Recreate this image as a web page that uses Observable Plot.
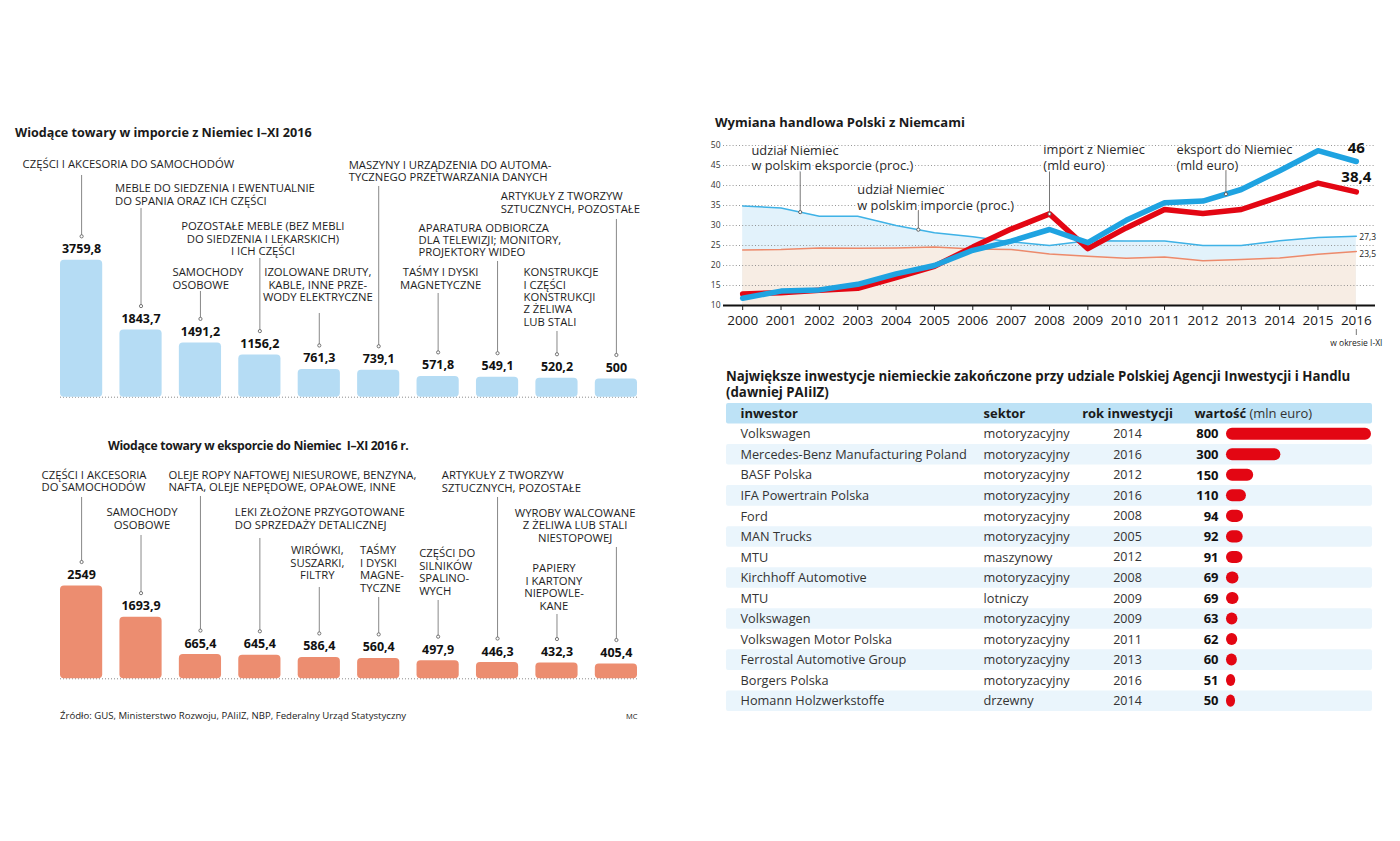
<!DOCTYPE html>
<html lang="pl">
<head>
<meta charset="utf-8">
<script src="https://cdn.jsdelivr.net/npm/d3@7"></script>
<script src="https://cdn.jsdelivr.net/npm/@observablehq/plot@0.6"></script>
<style>
html,body{margin:0;padding:0;background:#fff;}
#root{position:relative;width:1400px;height:841px;overflow:hidden;font-family:"Open Sans",sans-serif;color:#1a1a1a;background:#fff;}
.abs{position:absolute;white-space:nowrap;}
.ttl{font-weight:700;font-size:13px;line-height:15px;}
</style>
</head>
<body>
<div id="root"></div>
<script>
// ---------------- DATA ----------------
const importLabels = [
  "CZĘŚCI I AKCESORIA DO SAMOCHODÓW",
  "MEBLE DO SIEDZENIA I EWENTUALNIE\nDO SPANIA ORAZ ICH CZĘŚCI",
  "SAMOCHODY\nOSOBOWE",
  "POZOSTAŁE MEBLE (BEZ MEBLI\nDO SIEDZENIA I LEKARSKICH)\nI ICH CZĘŚCI",
  "IZOLOWANE DRUTY,\nKABLE, INNE PRZE-\nWODY ELEKTRYCZNE",
  "MASZYNY I URZĄDZENIA DO AUTOMA-\nTYCZNEGO PRZETWARZANIA DANYCH",
  "TAŚMY I DYSKI\nMAGNETYCZNE",
  "APARATURA ODBIORCZA\nDLA TELEWIZJI; MONITORY,\nPROJEKTORY WIDEO",
  "KONSTRUKCJE\nI CZĘŚCI\nKONSTRUKCJI\nZ ŻELIWA\nLUB STALI",
  "ARTYKUŁY Z TWORZYW\nSZTUCZNYCH, POZOSTAŁE"
];
const importValues = [3759.8, 1843.7, 1491.2, 1156.2, 761.3, 739.1, 571.8, 549.1, 520.2, 500];

const exportLabels = [
  "CZĘŚCI I AKCESORIA\nDO SAMOCHODÓW",
  "SAMOCHODY\nOSOBOWE",
  "OLEJE ROPY NAFTOWEJ NIESUROWE, BENZYNA,\nNAFTA, OLEJE NEPĘDOWE, OPAŁOWE, INNE",
  "LEKI ZŁOŻONE PRZYGOTOWANE\nDO SPRZEDAŻY DETALICZNEJ",
  "WIRÓWKI,\nSUSZARKI,\nFILTRY",
  "TAŚMY\nI DYSKI\nMAGNE-\nTYCZNE",
  "CZĘŚCI DO\nSILNIKÓW\nSPALINO-\nWYCH",
  "ARTYKUŁY Z TWORZYW\nSZTUCZNYCH, POZOSTAŁE",
  "PAPIERY\nI KARTONY\nNIEPOWLE-\nKANE",
  "WYROBY WALCOWANE\nZ ŻELIWA LUB STALI\nNIESTOPOWEJ"
];
const exportValues = [2549, 1693.9, 665.4, 645.4, 586.4, 560.4, 497.9, 446.3, 432.3, 405.4];

const years = [2000, 2001, 2002, 2003, 2004, 2005, 2006, 2007, 2008, 2009, 2010, 2011, 2012, 2013, 2014, 2015, 2016];
const exportShare = [34.9, 34.4, 32.3, 32.3, 30.0, 28.2, 27.2, 25.9, 25.0, 26.2, 26.1, 26.1, 25.0, 25.0, 26.2, 27.0, 27.3];
const importShare = [23.9, 24.0, 24.4, 24.3, 24.4, 24.6, 24.1, 24.0, 22.9, 22.3, 21.8, 22.1, 21.2, 21.5, 21.9, 22.8, 23.5];
const importEUR = [12.9, 13.2, 13.8, 14.3, 17.0, 19.8, 24.6, 29.1, 32.9, 24.2, 29.4, 34.0, 33.0, 34.0, 37.2, 40.6, 38.4];
const exportEUR = [11.8, 13.6, 13.9, 15.3, 17.9, 20.0, 23.8, 26.1, 29.0, 25.7, 31.3, 35.7, 36.1, 39.0, 43.7, 48.7, 46.0];
const yTicks = [10, 15, 20, 25, 30, 35, 40, 45, 50];

const investors = ["Volkswagen", "Mercedes-Benz Manufacturing Poland", "BASF Polska", "IFA Powertrain Polska", "Ford", "MAN Trucks", "MTU", "Kirchhoff Automotive", "MTU", "Volkswagen", "Volkswagen Motor Polska", "Ferrostal Automotive Group", "Borgers Polska", "Homann Holzwerkstoffe"];
const sectors = ["motoryzacyjny", "motoryzacyjny", "motoryzacyjny", "motoryzacyjny", "motoryzacyjny", "motoryzacyjny", "maszynowy", "motoryzacyjny", "lotniczy", "motoryzacyjny", "motoryzacyjny", "motoryzacyjny", "motoryzacyjny", "drzewny"];
const investYears = [2014, 2016, 2012, 2016, 2008, 2005, 2012, 2008, 2009, 2009, 2011, 2013, 2016, 2014];
const investValues = [800, 300, 150, 110, 94, 92, 91, 69, 69, 63, 62, 60, 51, 50];

// ---------------- LAYOUT (annotation placement, page px) ----------------
const importLayout = [
  {dx: -59, anchor: "start", y: 163.3, lead: 175},
  {dx: -26, anchor: "start", y: 187, lead: 208},
  {dx: -28, anchor: "start", y: 271, lead: 291},
  {dx: 3, anchor: "middle", y: 225, lead: 258},
  {dx: -1.5, anchor: "middle", y: 271, lead: 313},
  {dx: -30, anchor: "start", y: 163.5, lead: 186},
  {dx: 2.5, anchor: "middle", y: 271, lead: 293},
  {dx: -79, anchor: "start", y: 226.5, lead: 261},
  {dx: -33.5, anchor: "start", y: 271, lead: 331},
  {dx: -115.6, anchor: "start", y: 195, lead: 219}
];
const exportLayout = [
  {dx: -40, anchor: "start", y: 473.5, lead: 497},
  {dx: 1, anchor: "middle", y: 511, lead: 535},
  {dx: -32, anchor: "start", y: 473.5, lead: 496},
  {dx: -25, anchor: "start", y: 511, lead: 538},
  {dx: -2, anchor: "middle", y: 549, lead: 587},
  {dx: -18.7, anchor: "start", y: 549.3, lead: 597},
  {dx: -19, anchor: "start", y: 552.3, lead: 600},
  {dx: -55.8, anchor: "start", y: 474, lead: 497},
  {dx: -3, anchor: "middle", y: 567.3, lead: 614},
  {dx: -41.3, anchor: "middle", y: 511.7, lead: 547}
];

const FONT = '"Open Sans", sans-serif';
const root = document.getElementById("root");
function place(el, left, top) {
  el.style.position = "absolute";
  el.style.left = left + "px";
  el.style.top = top + "px";
  root.appendChild(el);
  return el;
}
function addText(html, left, top, cls, css) {
  const d = document.createElement("div");
  d.className = "abs " + (cls || "");
  d.innerHTML = html;
  if (css) d.style.cssText += css;
  return place(d, left, top);
}
const fmt = v => String(v).replace(".", ",");

// ---------------- BAR CHARTS ----------------
const K = 0.0364; // px per unit (shared scale)
function barChart({labels, values, layout, fill, top, baseline}) {
  const base = baseline - top;
  const H = base + 12;
  const inv = p => (baseline - p) / K;
  const data = labels.map((label, i) => ({label, value: values[i], i}));
  const marks = [
    Plot.ruleY([0], {stroke: "#8a8a8a", strokeDasharray: "1,2", strokeWidth: 1}),
    Plot.barY(data, {x: "label", y: "value", fill, rx: 4}),
    Plot.ruleX(data, {x: "label", y1: d => d.value + 24 / K, y2: d => inv(layout[d.i].lead), stroke: "#7a7a7a", strokeWidth: 0.9}),
    Plot.dot(data, {x: "label", y: "value", dy: -24, r: 1.6, fill: "white", stroke: "#666", strokeWidth: 0.9}),
    Plot.text(data, {x: "label", y: "value", text: d => fmt(d.value), dy: -11, fontWeight: "bold", fontSize: 12.5, fill: "#111"}),
    ...data.map(d => Plot.text([d], {
      x: "label", text: "label", frameAnchor: "top",
      dy: layout[d.i].y - top - 4.2, dx: layout[d.i].dx,
      textAnchor: layout[d.i].anchor, lineAnchor: "top", lineHeight: 1.1,
      fontSize: 11.3, fill: "#1e1e1e"
    }))
  ];
  const svg = Plot.plot({
    width: 660, height: H,
    marginLeft: 60, marginRight: 23, marginTop: 0, marginBottom: 12,
    x: {domain: labels, paddingInner: 0.29, paddingOuter: 0, round: false, axis: null},
    y: {domain: [0, base / K], range: [base, 0], axis: null},
    style: {fontFamily: FONT, background: "transparent", overflow: "visible"},
    marks
  });
  place(svg, 0, top);
}

addText("Wiodące towary w imporcie z Niemiec I–XI 2016", 15, 125, "ttl", "font-size:12.6px;");
barChart({labels: importLabels, values: importValues, layout: importLayout, fill: "#b5dcf4", top: 140, baseline: 396.7});

addText("Wiodące towary w eksporcie do Niemiec &nbsp;I–XI 2016 r.", 108, 438, "ttl", "font-size:12.2px;letter-spacing:-0.32px;");
barChart({labels: exportLabels, values: exportValues, layout: exportLayout, fill: "#ec8d70", top: 455, baseline: 678.3});

addText("Źródło: GUS, Ministerstwo Rozwoju, PAIiIZ, NBP, Federalny Urząd Statystyczny", 60, 709, "", "font-size:9.6px;line-height:13px;color:#222;");
addText("MC", 626, 710, "", "font-size:7.5px;line-height:12px;color:#222;");

// ---------------- LINE CHART ----------------
const series = years.map((year, i) => ({year, exportShare: exportShare[i], importShare: importShare[i], importEUR: importEUR[i], exportEUR: exportEUR[i]}));
function interp(arr, yr) {
  const i = Math.min(Math.floor(yr - years[0]), arr.length - 2);
  const t = yr - years[0] - i;
  return arr[i] + t * (arr[i + 1] - arr[i]);
}
const seriesByName = {exportShare, importShare, importEUR, exportEUR};
const lineAnnotations = [
  {text: "udział Niemiec\nw polskim eksporcie (proc.)", tx: 2000.23, ty: 49.3, lx: 2001.5, s: "exportShare", ly: 43.75},
  {text: "udział Niemiec\nw polskim imporcie (proc.)", tx: 2002.99, ty: 39.4, lx: 2004.58, s: "exportShare", ly: 33.75},
  {text: "import z Niemiec\n(mld euro)", tx: 2007.84, ty: 49.4, lx: 2008, s: "importEUR", ly: 43.75},
  {text: "eksport do Niemiec\n(mld euro)", tx: 2011.31, ty: 49.4, lx: 2012.6, s: "exportEUR", ly: 43.75}
].map(d => ({...d, anchorY: interp(seriesByName[d.s], d.lx)}));
const last = series[series.length - 1];

addText("Wymiana handlowa Polski z Niemcami", 715, 115, "ttl");
const lineSvg = Plot.plot({
  width: 700, height: 215,
  marginLeft: 23, marginRight: 25, marginTop: 10, marginBottom: 45,
  x: {domain: [1999.5, 2016.5]},
  y: {domain: [10, 50]},
  style: {fontFamily: FONT, background: "transparent", overflow: "visible"},
  marks: [
    Plot.areaY(series, {x: "year", y1: 10, y2: "exportShare", fill: "#e2f2fb"}),
    Plot.areaY(series, {x: "year", y1: 10, y2: "importShare", fill: "#f7ede4"}),
    Plot.ruleY(yTicks.filter(t => t > 10), {stroke: "#8a8a8a", strokeDasharray: "1,2.2", strokeWidth: 0.9}),
    Plot.line(series, {x: "year", y: "importShare", stroke: "#ec8a6c", strokeWidth: 1.5}),
    Plot.line(series, {x: "year", y: "exportShare", stroke: "#3fb2e6", strokeWidth: 1.5}),
    Plot.line(series, {x: "year", y: "importEUR", stroke: "#e30613", strokeWidth: 5.5, strokeLinejoin: "round"}),
    Plot.line(series, {x: "year", y: "exportEUR", stroke: "#1fa3e1", strokeWidth: 5.5, strokeLinejoin: "round"}),
    Plot.ruleY([10], {stroke: "#111", strokeWidth: 2}),
    Plot.axisX({ticks: years, tickFormat: d => String(d), tickSize: 5, tickPadding: 5, fontSize: 13.5, label: null, fill: "#1a1a1a"}),
    Plot.axisY({ticks: yTicks, tickSize: 0, tickPadding: 3, fontSize: 8.5, label: null, fill: "#333"}),
    Plot.ruleX(lineAnnotations, {x: "lx", y1: "anchorY", y2: "ly", stroke: "#666", strokeWidth: 0.9}),
    Plot.dot(lineAnnotations, {x: "lx", y: "anchorY", r: 1.6, fill: "white", stroke: "#555", strokeWidth: 0.9}),
    Plot.text(lineAnnotations, {x: "tx", y: "ty", text: "text", textAnchor: "start", lineAnchor: "top", dy: -4.7, lineHeight: 1.21, fontSize: 12.8, fill: "#2a2a2a", stroke: "white", strokeWidth: 3, paintOrder: "stroke"}),
    Plot.text([last], {x: "year", y: d => d.exportEUR, text: d => fmt(d.exportEUR), dy: -13, fontSize: 15, fontWeight: "bold", fill: "#111"}),
    Plot.text([last], {x: "year", y: d => d.importEUR, text: d => fmt(d.importEUR), dy: -14.5, fontSize: 15, fontWeight: "bold", fill: "#111"}),
    Plot.text([last], {x: "year", y: d => d.exportShare, text: d => fmt(d.exportShare), dx: 3, dy: 1, textAnchor: "start", fontSize: 8.5, fill: "#222"}),
    Plot.text([last], {x: "year", y: d => d.importShare, text: d => fmt(d.importShare), dx: 3, dy: 3, textAnchor: "start", fontSize: 8.5, fill: "#222"}),
    Plot.ruleX([last], {x: "year", y1: 4, y2: 2.5, stroke: "#666", strokeWidth: 0.9}),
    Plot.text([last], {x: "year", y: 0.5, text: () => "w okresie I-XI", fontSize: 8.5, fill: "#222"})
  ]
});
place(lineSvg, 700, 135);

// ---------------- TABLE ----------------
addText("Największe inwestycje niemieckie zakończone przy udziale Polskiej Agencji Inwestycji i Handlu<br>(dawniej PAIiIZ)", 726, 369, "ttl", "font-size:13.25px;line-height:15.5px;");
const tableRows = investors.map((name, i) => ({i, name, sector: sectors[i], year: investYears[i], value: investValues[i]}));
const header = [{i: "h"}];
const rowH = 20.53;
const tableH = rowH * (tableRows.length + 1);
const tableSvg = Plot.plot({
  width: 646, height: tableH, margin: 0,
  x: {domain: [0, 800], range: [500, 645], axis: null},
  y: {domain: ["h", ...tableRows.map(d => d.i)], range: [0, tableH], padding: 0, round: false, axis: null},
  style: {fontFamily: FONT, background: "transparent", overflow: "visible"},
  marks: [
    Plot.cell(header, {y: "i", fill: "#bde2f6", rx: 2}),
    Plot.cell(tableRows.filter(d => d.i % 2 === 1), {y: "i", fill: "#eaf5fc", rx: 2}),
    Plot.text(header, {y: "i", text: () => "inwestor", frameAnchor: "left", dx: 14, textAnchor: "start", fontSize: 13, fontWeight: "bold", fill: "#1a1a1a"}),
    Plot.text(header, {y: "i", text: () => "sektor", frameAnchor: "left", dx: 257, textAnchor: "start", fontSize: 13, fontWeight: "bold", fill: "#1a1a1a"}),
    Plot.text(header, {y: "i", text: () => "rok inwestycji", frameAnchor: "left", dx: 401, textAnchor: "middle", fontSize: 13, fontWeight: "bold", fill: "#1a1a1a"}),
    Plot.text(header, {y: "i", text: () => "wartość", frameAnchor: "left", dx: 468, textAnchor: "start", fontSize: 13, fontWeight: "bold", fill: "#1a1a1a"}),
    Plot.text(header, {y: "i", text: () => "(mln euro)", frameAnchor: "left", dx: 523, textAnchor: "start", fontSize: 13, fill: "#333"}),
    Plot.text(tableRows, {y: "i", text: "name", frameAnchor: "left", dx: 14, textAnchor: "start", fontSize: 12.75, fill: "#333"}),
    Plot.text(tableRows, {y: "i", text: "sector", frameAnchor: "left", dx: 257, textAnchor: "start", fontSize: 12.75, fill: "#333"}),
    Plot.text(tableRows, {y: "i", text: d => String(d.year), frameAnchor: "left", dx: 401, textAnchor: "middle", fontSize: 12.5, fill: "#333"}),
    Plot.text(tableRows, {x: 0, y: "i", text: d => String(d.value), dx: -8, textAnchor: "end", fontSize: 13, fontWeight: "bold", fill: "#111"}),
    Plot.barX(tableRows, {x: "value", y: "i", fill: "#e30613", insetTop: 4.2, insetBottom: 4.3, rx: 6})
  ]
});
place(tableSvg, 726, 403);
</script>
</body>
</html>
